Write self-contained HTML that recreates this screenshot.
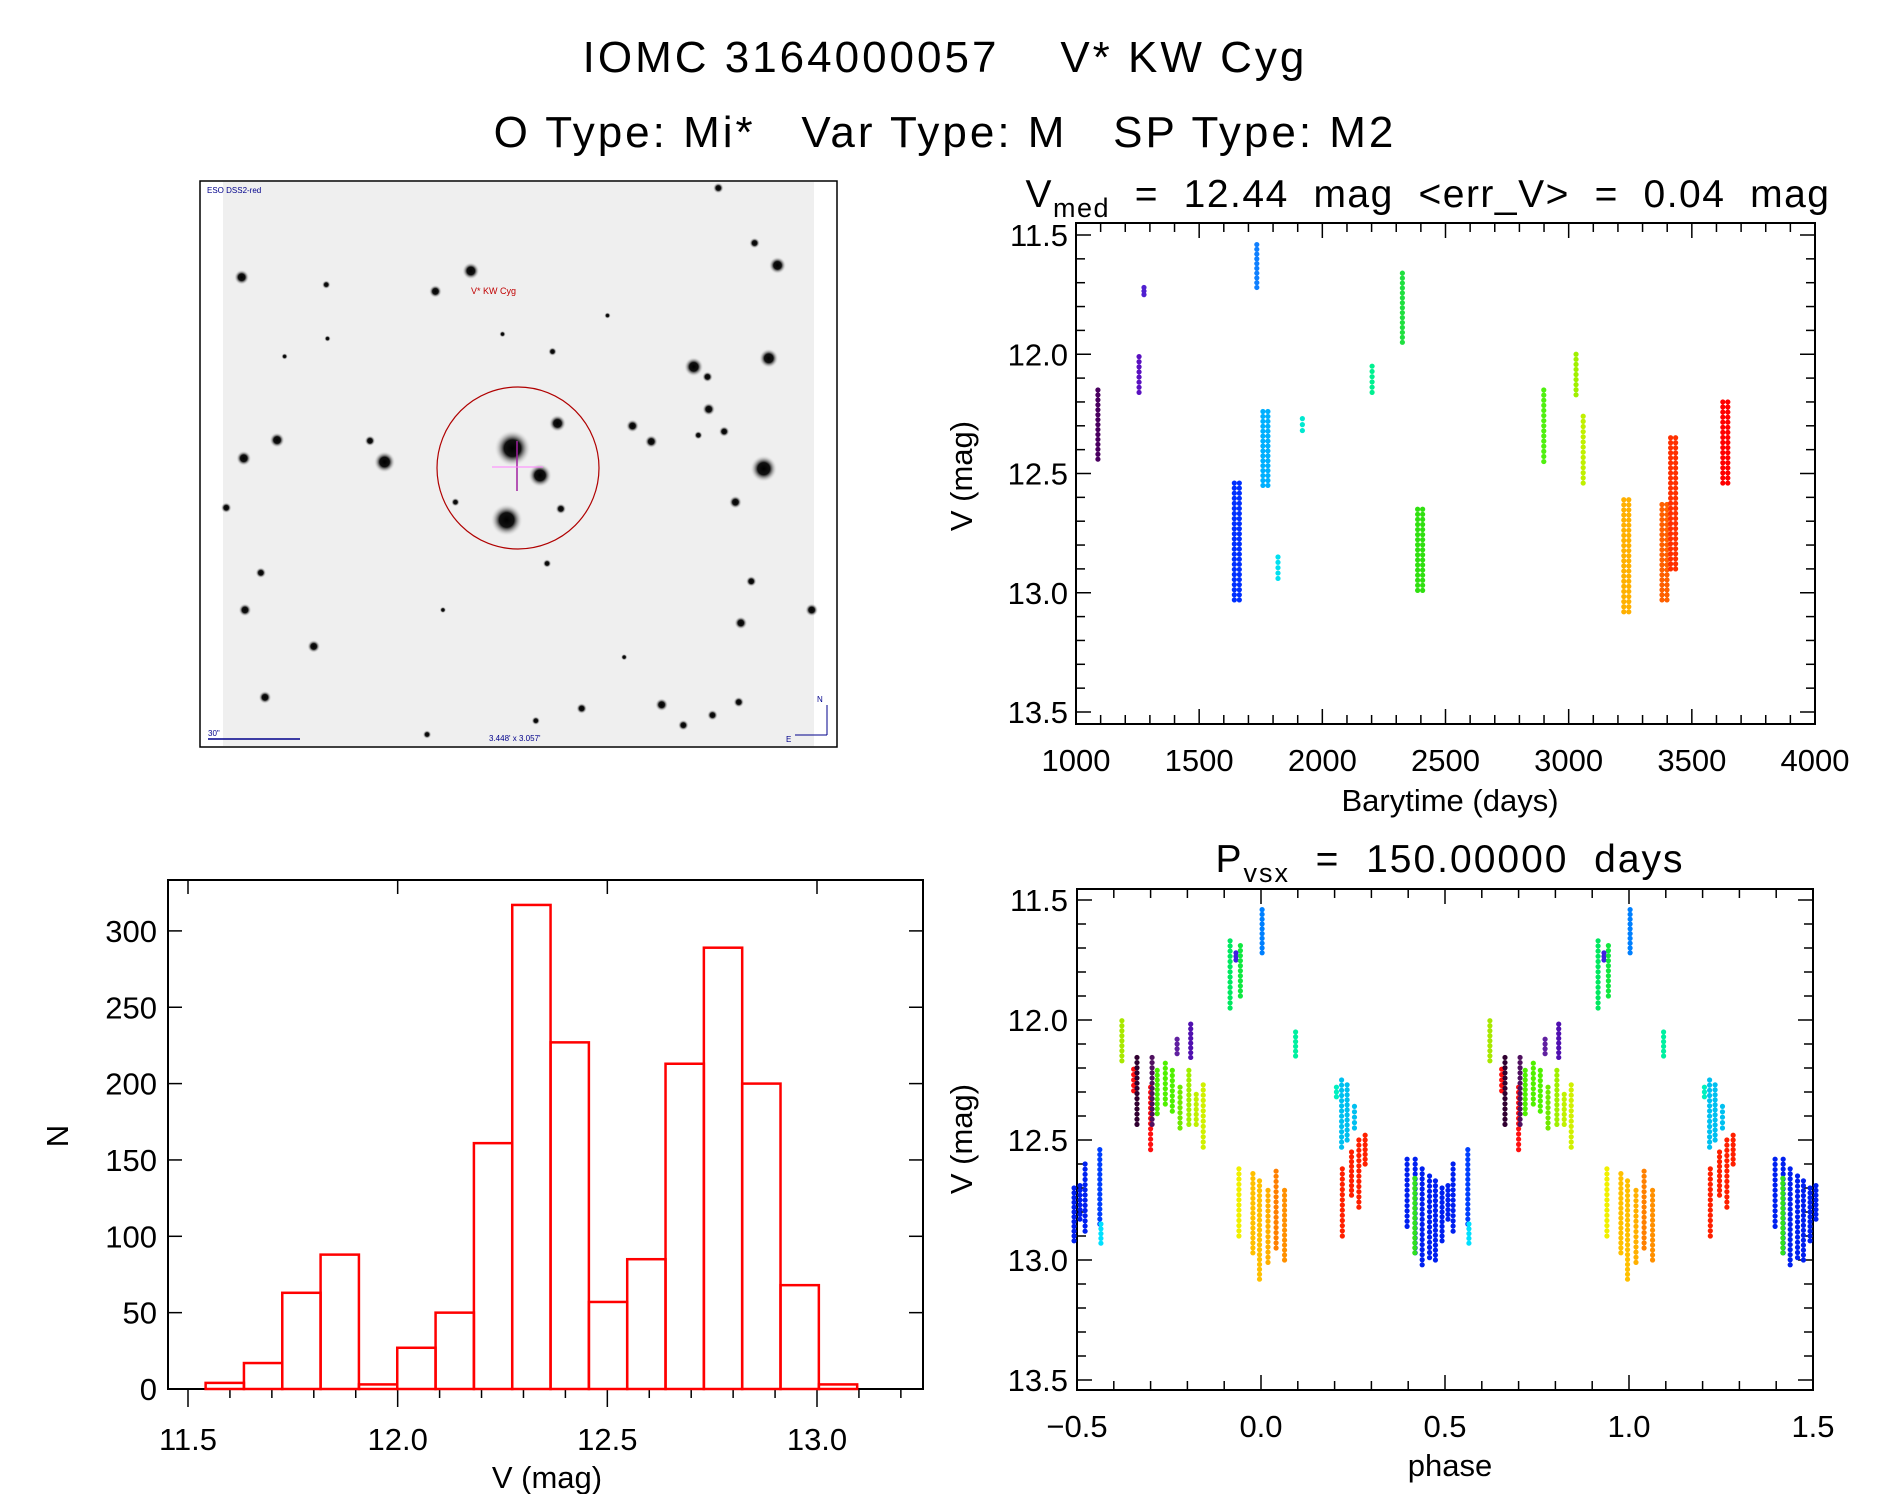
<!DOCTYPE html>
<html><head><meta charset="utf-8"><style>
html,body{margin:0;padding:0;background:#fff;}
svg{display:block;font-family:"Liberation Sans","DejaVu Sans",sans-serif;}
text{white-space:pre;}
</style></head><body>
<svg id="root" width="1889" height="1494" viewBox="0 0 1889 1494" xmlns="http://www.w3.org/2000/svg" xml:space="preserve">
<rect width="1889" height="1494" fill="#fff"/>
<text x="945" y="72" font-size="44" letter-spacing="3" text-anchor="middle" fill="#000">IOMC 3164000057    V* KW Cyg</text>
<text x="945" y="147" font-size="44" letter-spacing="3" text-anchor="middle" fill="#000">O Type: Mi*   Var Type: M   SP Type: M2</text>

<g id="img">
  <rect x="200" y="181" width="637" height="566" fill="#fff" stroke="#000" stroke-width="1.5"/>
  <rect x="223" y="182" width="591" height="564" fill="#efefef"/>
  <g id="stars"></g>
  <text x="207" y="193" font-size="8" fill="#00008b">ESO DSS2-red</text>
  <text x="471" y="294" font-size="9" fill="#c00000">V* KW Cyg</text>
  <ellipse cx="518" cy="468" rx="81" ry="81" fill="none" stroke="#b00000" stroke-width="1.2"/>
  <line x1="517" y1="441" x2="517" y2="491" stroke="#a020a0" stroke-width="1.5"/>
  <line x1="492" y1="467" x2="543" y2="467" stroke="#ff80ff" stroke-width="1"/>
  <line x1="208" y1="739" x2="300" y2="739" stroke="#00008b" stroke-width="1.5"/>
  <text x="208" y="736" font-size="8" fill="#00008b">30"</text>
  <text x="489" y="741" font-size="8" fill="#00008b">3.448' x 3.057'</text>
  <line x1="827" y1="705" x2="827" y2="735" stroke="#00008b" stroke-width="1"/>
  <line x1="795" y1="735" x2="827" y2="735" stroke="#00008b" stroke-width="1"/>
  <text x="817" y="702" font-size="8" fill="#00008b">N</text>
  <text x="786" y="742" font-size="8" fill="#00008b">E</text>
</g>

<g id="lc"></g>
<g id="hist"></g>
<g id="ph"></g>
</svg>
<script>
const NS="http://www.w3.org/2000/svg";
function mk(parent,tag,attrs,txt){const e=document.createElementNS(NS,tag);for(const k in attrs)e.setAttribute(k,attrs[k]);if(txt!==undefined)e.textContent=txt;parent.appendChild(e);return e;}

// ---- star field data (zoom-coordinate positions) ----
const starX=[112,662,577,315,1398,1343,1256,1197,1230,1377,1233,1270,1208,1050,1095,1365,1297,762,828,870,748,878,197,117,455,420,158,120,285,168,1335,1310,1480,1120,1242,1305,1172,928,818,557,858,738,990,318,215,625,845,1030,595,75];
const starY=[275,258,313,295,243,183,35,516,543,493,630,690,700,675,717,790,880,735,808,668,928,898,713,762,772,715,1070,1170,1268,1405,1093,1205,1170,1425,1453,1418,1480,1435,1468,1505,475,428,378,440,488,880,1045,1297,1170,895];
const starR=[14,16,12,8,16,10,10,18,10,18,12,10,8,12,12,25,12,34,22,16,30,10,14,14,20,10,10,12,12,12,10,12,12,12,10,10,10,10,8,8,8,6,6,6,6,8,8,6,6,10];
const sg=document.getElementById('stars');
const defs=mk(document.getElementById('root'),'defs',{});
const rg=mk(defs,'radialGradient',{id:'sg'});
mk(rg,'stop',{offset:'0%','stop-color':'#000'});mk(rg,'stop',{offset:'45%','stop-color':'#111'});mk(rg,'stop',{offset:'100%','stop-color':'#efefef','stop-opacity':'0'});
for(let i=0;i<starX.length;i++){
  const c=mk(sg,'circle',{cx:starX[i]/2.4+195,cy:starY[i]/2.69+175,r:starR[i]/2.4*1.3,fill:'url(#sg)'});
  
  
}

// ---- light curve data (per observing season) ----
const seasonT=[1089,1256,1276,1655,1734,1771,1820,1919,2202,2325,2399,2899,3030,3059,3236,3391,3426,3638];
const seasonMin=[12.15,12.01,11.72,12.54,11.54,12.24,12.85,12.27,12.05,11.66,12.65,12.15,12.0,12.26,12.61,12.63,12.35,12.2];
const seasonMax=[12.44,12.16,11.75,13.03,11.72,12.55,12.94,12.32,12.16,11.95,12.99,12.45,12.17,12.54,13.08,13.03,12.9,12.54];
const seasonColor=['#4a0060','#5a10c0','#5020d0','#0030ff','#1080ff','#00b0ff','#00e0f0','#00e8d0','#00f090','#20e040','#30e010','#50f010','#a0f000','#c0f000','#ffb000','#ff6000','#ff3000','#ff0000'];
const lcXTicks=[1000,1500,2000,2500,3000,3500,4000];
const magTicks=[11.5,12.0,12.5,13.0,13.5];

// ---- histogram data ----
const histStart=11.542, histWidth=0.0914;
const histCounts=[4,17,63,88,3,27,50,161,317,227,57,85,213,289,200,68,3];
const histXTicks=[11.5,12.0,12.5,13.0];
const histYTicks=[0,50,100,150,200,250,300];

// ---- phase plot data (clusters, phase in one cycle) ----
const phPhase=[-0.378,-0.346,-0.337,-0.30,-0.296,-0.282,-0.26,-0.241,-0.228,-0.22,-0.191,-0.196,-0.176,-0.157,-0.084,-0.068,-0.056,0.003,0.094,0.205,0.219,0.234,0.254,0.221,0.246,0.266,0.283,-0.06,-0.022,-0.004,0.019,0.041,0.064,0.397,0.419,0.438,0.458,0.474,0.492,0.508,0.522,0.418,0.562,0.565];
const phMin=[12.003,12.205,12.156,12.28,12.156,12.21,12.18,12.21,12.08,12.28,12.017,12.21,12.31,12.27,11.67,11.72,11.69,11.54,12.05,12.28,12.25,12.27,12.36,12.62,12.55,12.5,12.48,12.62,12.64,12.67,12.71,12.63,12.71,12.58,12.58,12.62,12.65,12.67,12.7,12.69,12.6,12.66,12.54,12.85];
const phMax=[12.17,12.295,12.435,12.54,12.435,12.39,12.35,12.38,12.14,12.45,12.156,12.435,12.435,12.53,11.95,11.75,11.9,11.72,12.15,12.32,12.53,12.5,12.45,12.9,12.73,12.78,12.6,12.9,12.97,13.08,13.01,12.95,13.0,12.86,12.97,13.02,12.99,13.0,12.92,12.83,12.88,12.97,12.85,12.93];
const phColor=['#a8e800','#ff1010','#300030','#ff1010','#501060','#50f000','#50f000','#50f000','#6020a0','#70e800','#5010b0','#a0f000','#c0f000','#d0f000','#00e860','#4020e0','#10e840','#0080ff','#00f0a0','#00f0c0','#00c0f0','#00c0f0','#00c0f0','#ff2000','#ff2000','#ff2000','#ff2000','#f0f000','#ffc000','#ffc000','#ffb000','#ff8000','#ff9000','#0020f0','#0020f0','#0020f0','#0020f0','#0020f0','#0020f0','#0020f0','#0020f0','#30e020','#0040ff','#00e0ff'];
const phXTicks=[-0.5,0.0,0.5,1.0,1.5];

function axesBox(g,L,R,T,B){mk(g,'rect',{x:L,y:T,width:R-L,height:B-T,fill:'none',stroke:'#000','stroke-width':2});}
function dotColumn(g,x,y1,y2,col,name){
  const n=Math.max(2,Math.round(Math.abs(y2-y1)/5));
  for(let k=0;k<=n;k++){const c=mk(g,'circle',{cx:x,cy:y1+(y2-y1)*k/n,r:2.6,fill:col});
    
    }
}

// ===== light curve =====
(function(){
  const g=document.getElementById('lc');
  const L=1076,R=1815,T=223,B=724;
  const sx=t=>L+(t-1000)/3000*(R-L);
  const sy=m=>235+(m-11.5)/2*477;
  const tt=mk(g,'text',{x:1428,y:207,'font-size':39,'letter-spacing':1.5,'text-anchor':'middle',});
  tt.innerHTML='V<tspan font-size="27" dy="10">med</tspan><tspan dy="-10">  =  12.44  mag  &lt;err_V&gt;  =  0.04  mag</tspan>';
  axesBox(g,L,R,T,B);
  for(let t=1000;t<=4000;t+=100){const maj=t%500===0,len=maj?15:9;
    mk(g,'line',{x1:sx(t),x2:sx(t),y1:B,y2:B-len,stroke:'#000','stroke-width':1.5});
    mk(g,'line',{x1:sx(t),x2:sx(t),y1:T,y2:T+len,stroke:'#000','stroke-width':1.5});}
  for(let i=0;i<=20;i++){const m=11.5+i*0.1,maj=i%5===0,len=maj?15:9;
    mk(g,'line',{x1:L,x2:L+len,y1:sy(m),y2:sy(m),stroke:'#000','stroke-width':1.5});
    mk(g,'line',{x1:R,x2:R-len,y1:sy(m),y2:sy(m),stroke:'#000','stroke-width':1.5});}
  lcXTicks.forEach(v=>{const e=mk(g,'text',{x:sx(v),y:771,'font-size':31,'text-anchor':'middle'},String(v));
    });
  magTicks.forEach(v=>{const e=mk(g,'text',{x:1068,y:sy(v)+11,'font-size':31,'text-anchor':'end'},v.toFixed(1));
    });
  mk(g,'text',{x:1450,y:811,'font-size':31,'text-anchor':'middle',},'Barytime (days)');
  mk(g,'text',{x:0,y:0,'font-size':31,'text-anchor':'middle',transform:'translate(972,476) rotate(-90)',},'V (mag)');
  for(let i=0;i<seasonT.length;i++){
    const w=(seasonMax[i]-seasonMin[i])>0.3?[-3,2]:[0];
    w.forEach(d=>dotColumn(g,sx(seasonT[i])+d,sy(seasonMin[i]),sy(seasonMax[i]),seasonColor[i],'season-points'));
  }
})();

// ===== histogram =====
(function(){
  const g=document.getElementById('hist');
  const L=168,R=923,T=880,B=1389;
  const sx=v=>188+(v-11.5)/1.5*629;
  const sy=c=>B-c*1.527;
  axesBox(g,L,R,T,B);
  for(let i=0;i<=17;i++){const v=11.5+i*0.1,maj=i%5===0;
    mk(g,'line',{x1:sx(v),x2:sx(v),y1:B,y2:B+(maj?18:9),stroke:'#000','stroke-width':1.5});
    if(maj)mk(g,'line',{x1:sx(v),x2:sx(v),y1:T,y2:T+14,stroke:'#000','stroke-width':1.5});}
  histYTicks.forEach(c=>{
    mk(g,'line',{x1:L,x2:L+14,y1:sy(c),y2:sy(c),stroke:'#000','stroke-width':1.5});
    mk(g,'line',{x1:R,x2:R-14,y1:sy(c),y2:sy(c),stroke:'#000','stroke-width':1.5});
    const e=mk(g,'text',{x:157,y:sy(c)+11,'font-size':31,'text-anchor':'end'},String(c));
    });
  histXTicks.forEach(v=>{const e=mk(g,'text',{x:sx(v),y:1450,'font-size':31,'text-anchor':'middle'},v.toFixed(1));
    });
  mk(g,'text',{x:547,y:1488,'font-size':31,'text-anchor':'middle',},'V (mag)');
  mk(g,'text',{x:0,y:0,'font-size':31,'text-anchor':'middle',transform:'translate(68,1136) rotate(-90)',},'N');
  for(let i=0;i<histCounts.length;i++){
    const x0=sx(histStart+i*histWidth),x1=sx(histStart+(i+1)*histWidth);
    const r=mk(g,'rect',{x:x0,y:sy(histCounts[i]),width:x1-x0,height:histCounts[i]*1.527,fill:'none',stroke:'#ff0000','stroke-width':2.5});
    
    
  }
})();

// ===== phase plot =====
(function(){
  const g=document.getElementById('ph');
  const L=1077,R=1813,T=889,B=1390;
  const sx=p=>L+(p+0.5)/2*(R-L);
  const sy=m=>900+(m-11.5)/2*480;
  const tt=mk(g,'text',{x:1450,y:872,'font-size':39,'letter-spacing':2,'text-anchor':'middle',});
  tt.innerHTML='P<tspan font-size="27" dy="10">vsx</tspan><tspan dy="-10">  =  150.00000  days</tspan>';
  axesBox(g,L,R,T,B);
  for(let i=0;i<=20;i++){const p=-0.5+i*0.1,maj=i%5===0,len=maj?15:9;
    mk(g,'line',{x1:sx(p),x2:sx(p),y1:B,y2:B-len,stroke:'#000','stroke-width':1.5});
    mk(g,'line',{x1:sx(p),x2:sx(p),y1:T,y2:T+len,stroke:'#000','stroke-width':1.5});}
  for(let i=0;i<=20;i++){const m=11.5+i*0.1,maj=i%5===0,len=maj?15:9;
    mk(g,'line',{x1:L,x2:L+len,y1:sy(m),y2:sy(m),stroke:'#000','stroke-width':1.5});
    mk(g,'line',{x1:R,x2:R-len,y1:sy(m),y2:sy(m),stroke:'#000','stroke-width':1.5});}
  phXTicks.forEach(v=>{const lab=(v<0?'\u2212':'')+Math.abs(v).toFixed(1);
    const e=mk(g,'text',{x:sx(v),y:1437,'font-size':31,'text-anchor':'middle'},lab);
    });
  magTicks.forEach(v=>{const e=mk(g,'text',{x:1068,y:sy(v)+11,'font-size':31,'text-anchor':'end'},v.toFixed(1));
    });
  mk(g,'text',{x:1450,y:1476,'font-size':31,'text-anchor':'middle',},'phase');
  mk(g,'text',{x:0,y:0,'font-size':31,'text-anchor':'middle',transform:'translate(972,1139) rotate(-90)',},'V (mag)');
  for(let i=0;i<phPhase.length;i++){
    [-1,0,1,2].forEach(k=>{const p=phPhase[i]+k;
      if(p>=-0.51&&p<=1.51)dotColumn(g,sx(p),sy(phMin[i]),sy(phMax[i]),phColor[i],'phase-points');});
  }
})();
</script>
</body></html>
